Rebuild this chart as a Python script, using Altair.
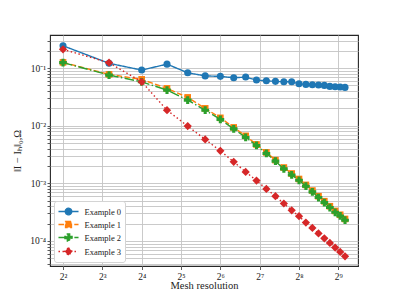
import json
import altair as alt
import pandas as pd

# ---- data ----
N = list(range(2, 25))
RES = [n * n for n in N]  # mesh resolution 4 ... 576
SERIES = ["Example 0", "Example 1", "Example 2", "Example 3"]

E0 = [0.244, 0.121, 0.0923, 0.117, 0.0829, 0.0732, 0.0718, 0.0679, 0.0698, 0.0619,
      0.0602, 0.0588, 0.0578, 0.0578, 0.0534, 0.0521, 0.0513, 0.0507, 0.0501, 0.0481,
      0.0473, 0.0468, 0.0462]
E1 = [0.1256, 0.0778, 0.0637, 0.0444, 0.0310, 0.0200, 0.0137, 0.00934, 0.00667, 0.00473,
      0.00344, 0.00253, 0.00188, 0.00148, 0.00119, 0.00094, 0.00075, 0.000598, 0.00049,
      0.000401, 0.000332, 0.000285, 0.000241]
E2 = [0.1245, 0.0756, 0.0578, 0.0415, 0.0278, 0.0186, 0.01285, 0.00883, 0.00626, 0.00454,
      0.00330, 0.00243, 0.00178, 0.00140, 0.00113, 0.000892, 0.00071, 0.000567, 0.000465,
      0.000380, 0.000315, 0.000272, 0.000229]
E3 = [0.2113, 0.124, 0.0578, 0.0186, 0.00984, 0.00578, 0.00367, 0.00236, 0.00158, 0.00112,
      0.0008, 0.000598, 0.000447, 0.000341, 0.000269, 0.000209, 0.000168, 0.000135,
      0.000111, 0.0000924, 0.0000769, 0.0000645, 0.0000543]
VALUES = [E0, E1, E2, E3]

X_TICKS = [4, 8, 16, 32, 64, 128, 256, 512]
X_LABELS = ["2²", "2³", "2⁴", "2⁵", "2⁶", "2⁷", "2⁸", "2⁹"]
Y_MAJOR = [1e-1, 1e-2, 1e-3, 1e-4]
Y_LABELS = ["10⁻¹", "10⁻²", "10⁻³", "10⁻⁴"]
Y_TICKS = [4e-5, 5e-5, 6e-5, 7e-5, 8e-5, 9e-5,
           1e-4, 2e-4, 3e-4, 4e-4, 5e-4, 6e-4, 7e-4, 8e-4, 9e-4,
           1e-3, 2e-3, 3e-3, 4e-3, 5e-3, 6e-3, 7e-3, 8e-3, 9e-3,
           1e-2, 2e-2, 3e-2, 4e-2, 5e-2, 6e-2, 7e-2, 8e-2, 9e-2,
           1e-1, 2e-1, 3e-1]

# ---- styles ----
COLORS = ["#1f77b4", "#ff7f0e", "#2ca02c", "#d62728"]
DASHES = [[1, 0], [5.5, 2.4], [9.6, 2.4, 1.5, 2.4], [1.5, 2.5]]
MARKERS = ["circle", "square", "cross", "diamond"]
SIZES = [50, 44, 60, 68]
LEGEND_PATHS = [
    "M-1.67,0H1.67M0.55,0A0.55,0.55 0 1,1 -0.55,0A0.55,0.55 0 1,1 0.55,0Z",
    "M-1.67,0H1.67M-0.5,-0.5H0.5V0.5H-0.5Z",
    "M-1.67,0H1.67M-0.2,-0.6H0.2V-0.2H0.6V0.2H0.2V0.6H-0.2V0.2H-0.6V-0.2H-0.2Z",
    "M-1.67,0H1.67M0,-0.65L0.65,0L0,0.65L-0.65,0Z",
]
FONT = "Liberation Serif"

rows = []
for s, vals in zip(SERIES, VALUES):
    for r, v in zip(RES, vals):
        rows.append({"series": s, "res": r, "err": v})
df = pd.DataFrame(rows)

x_expr = (f"{json.dumps(X_LABELS, ensure_ascii=False)}"
          f"[indexof({json.dumps(X_TICKS)}, datum.value)]")
y_expr = (f"indexof({json.dumps(Y_MAJOR)}, datum.value) >= 0 ? "
          f"{json.dumps(Y_LABELS, ensure_ascii=False)}[indexof({json.dumps(Y_MAJOR)}, datum.value)] : ''")

x_enc = alt.X(
    "res:Q",
    scale=alt.Scale(type="log", base=2, domain=[3.18, 724], nice=False, zero=False),
    axis=alt.Axis(values=X_TICKS, labelExpr=x_expr, title="Mesh resolution",
                  grid=True, domain=False, tickSize=3.5, labelPadding=1.5,
                  titlePadding=0),
)
y_enc = alt.Y(
    "err:Q",
    scale=alt.Scale(type="log", domain=[3.68e-5, 0.375], nice=False, zero=False),
    axis=alt.Axis(values=Y_TICKS, labelExpr=y_expr, title="‖I − Iₕ‖₀,Ω",
                  grid=True, domain=False, tickSize=3, labelPadding=1.5,
                  titlePadding=7),
)
color_nolegend = alt.Color("series:N", scale=alt.Scale(domain=SERIES, range=COLORS), legend=None)

base = alt.Chart(df).encode(x=x_enc, y=y_enc)
layers = []
for i, s in enumerate(SERIES):
    sub = base.transform_filter(alt.datum.series == s)
    layers.append(sub.mark_line(strokeWidth=1.4, strokeDash=DASHES[i]).encode(color=color_nolegend))
    layers.append(sub.mark_point(filled=True, shape=MARKERS[i], size=SIZES[i], opacity=1)
                  .encode(color=color_nolegend))

legend = alt.Legend(
    title=None, orient="bottom-left", offset=4, padding=3.5,
    symbolSize=144, symbolOffset=4, labelOffset=9, rowPadding=0,
    labelFont=FONT, labelFontSize=8.5, labelColor="#222",
    fillColor="white", strokeColor="#d4d4d4", cornerRadius=2.5,
    symbolStrokeWidth=1.3,
)
# invisible marks (size 0) that only carry the legend
legend_layer = alt.Chart(df).mark_point(filled=True, size=0, opacity=1).encode(
    x=x_enc, y=y_enc,
    fill=alt.Fill("series:N", scale=alt.Scale(domain=SERIES, range=COLORS), legend=legend),
    shape=alt.Shape("series:N", scale=alt.Scale(domain=SERIES, range=LEGEND_PATHS), legend=legend),
    strokeDash=alt.StrokeDash("series:N", scale=alt.Scale(domain=SERIES, range=DASHES), legend=legend),
)
layers.insert(0, legend_layer)

chart = alt.layer(*layers).properties(
    width=308, height=231,
    autosize=alt.AutoSizeParams(type="none"),
    padding={"left": 42, "top": 27, "right": 10, "bottom": 40},
).configure_view(
    stroke="#262626", strokeWidth=1.1
).configure_axis(
    labelFont=FONT, titleFont=FONT, labelFontSize=9.5, titleFontSize=10.5,
    titleFontWeight="normal", labelColor="#222", titleColor="#222",
    gridColor="#c4c4c4", gridWidth=0.9, tickColor="#333", tickWidth=0.8,
)

chart.save("out.html", embed_options={"renderer": "svg", "actions": False})
